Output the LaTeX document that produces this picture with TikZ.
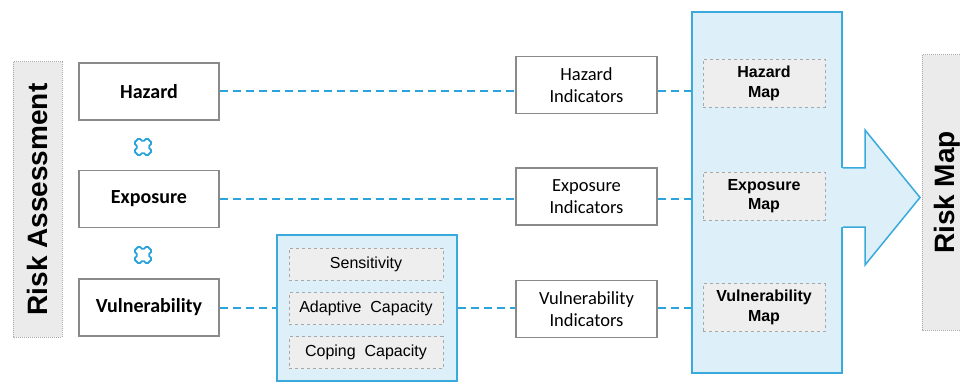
\documentclass[tikz,border=0pt]{standalone}
\usepackage{fontspec}
\setmainfont{Carlito}
\newfontfamily\arialf{Liberation Sans}
\definecolor{lineblue}{HTML}{2BA3DB}
\definecolor{panelfill}{HTML}{DDEFF9}
\definecolor{paneldraw}{HTML}{3AA9DC}
\definecolor{boxgray}{HTML}{8A8A8A}
\definecolor{innerfill}{HTML}{EEEEEE}
\definecolor{dashgray}{HTML}{A8A8A8}
\definecolor{sidefill}{HTML}{EBEBEB}
\tikzset{
  outbox/.style={draw=boxgray, line width=1.5, fill=white, minimum width=140, minimum height=57, inner sep=0, font=\fontsize{20}{24}\selectfont\bfseries},
  indbox/.style={draw=boxgray, line width=1.5, fill=white, minimum width=141, minimum height=57, inner sep=0, align=center, font=\fontsize{18.5}{22.5}\selectfont},
  mapbox/.style={draw=dashgray, dashed, line width=0.8, fill=innerfill, minimum width=122, minimum height=48, inner sep=0, align=center, font=\arialf\bfseries\fontsize{16}{19.5}\selectfont},
  subbox/.style={draw=dashgray, dashed, line width=0.8, fill=innerfill, minimum width=154, minimum height=32, inner sep=0, font=\arialf\fontsize{16}{19}\selectfont},
  panelbox/.style={draw=paneldraw, line width=1.5, fill=panelfill, inner sep=0},
  sidebox/.style={draw=dashgray, densely dotted, line width=1, fill=sidefill, rotate=90, inner sep=0, font=\arialf\bfseries\fontsize{28}{32}\selectfont},
  link/.style={draw=lineblue, line width=2, dash pattern=on 8 off 5},
  xcross/.style={draw=lineblue, line width=1.8, rounded corners=1.5}
}
\begin{document}
\begin{tikzpicture}[x=1pt,y=-1pt]
\clip (0,0) rectangle (960,382);
\fill[white] (0,0) rectangle (960,382);

% left column
\node[sidebox, minimum width=275, minimum height=49] (ra) at (37.5,199.5) {Risk Assessment};
\node[outbox] (haz) at (149,91.5) {Hazard};
\node[outbox] (exp) at (149,199) {Exposure};
\node[outbox] (vul) at (149,307.5) {Vulnerability};
\foreach \cy in {147,255}{
  \draw[xcross, shift={(143,\cy)}, scale=1.3]
     (-7,-3) -- (-3,-7) -- (0,-4) -- (3,-7) -- (7,-3) -- (4,0) -- (7,3) -- (3,7) -- (0,4) -- (-3,7) -- (-7,3) -- (-4,0) -- cycle;
}

% vulnerability group
\node[panelbox, minimum width=180, minimum height=146] (vgroup) at (367,308) {};
\node[subbox] (sens) at (366,264) {Sensitivity};
\node[subbox] (adap) at (366,308.5) {Adaptive\ \ Capacity};
\node[subbox] (cope) at (366,352.5) {Coping\ \ Capacity};

% indicators
\node[indbox] (hazInd) at (586.5,85) {Hazard\\Indicators};
\node[indbox] (expInd) at (586.5,196.5) {Exposure\\Indicators};
\node[indbox] (vulInd) at (586.5,309) {Vulnerability\\Indicators};

% map panel and arrow
\node[panelbox, minimum width=150, minimum height=361] (panel) at (767,192.5) {};
\fill[panelfill] (840,168) -- (865,168) -- (865,130) -- (920,197.5) -- (865,265) -- (865,227) -- (840,227) -- cycle;
\draw[paneldraw, line width=1.5, line join=miter] (panel.east |- 0,168) -- (865,168) -- (865,130) -- (920,197.5) -- (865,265) -- (865,227) -- (panel.east |- 0,227);
\node[mapbox] (hazMap) at (764,83.5) {Hazard\\Map};
\node[mapbox] (expMap) at (764,196) {Exposure\\Map};
\node[mapbox] (vulMap) at (764,307.5) {Vulnerability\\Map};

% risk map
\node[sidebox, minimum width=275, minimum height=50] (rm) at (947,192.5) {Risk Map};

% connectors
\draw[link] (haz.east) -- (hazInd.west |- haz.east);
\draw[link] (hazInd.east |- haz.east) -- (panel.west |- haz.east);
\draw[link] (exp.east) -- (expInd.west |- exp.east);
\draw[link] (expInd.east |- exp.east) -- (panel.west |- exp.east);
\draw[link] (vul.east) -- (vgroup.west |- vul.east);
\draw[link] (vgroup.east |- vul.east) -- (vulInd.west |- vul.east);
\draw[link] (vulInd.east |- vul.east) -- (panel.west |- vul.east);
\end{tikzpicture}
\end{document}
